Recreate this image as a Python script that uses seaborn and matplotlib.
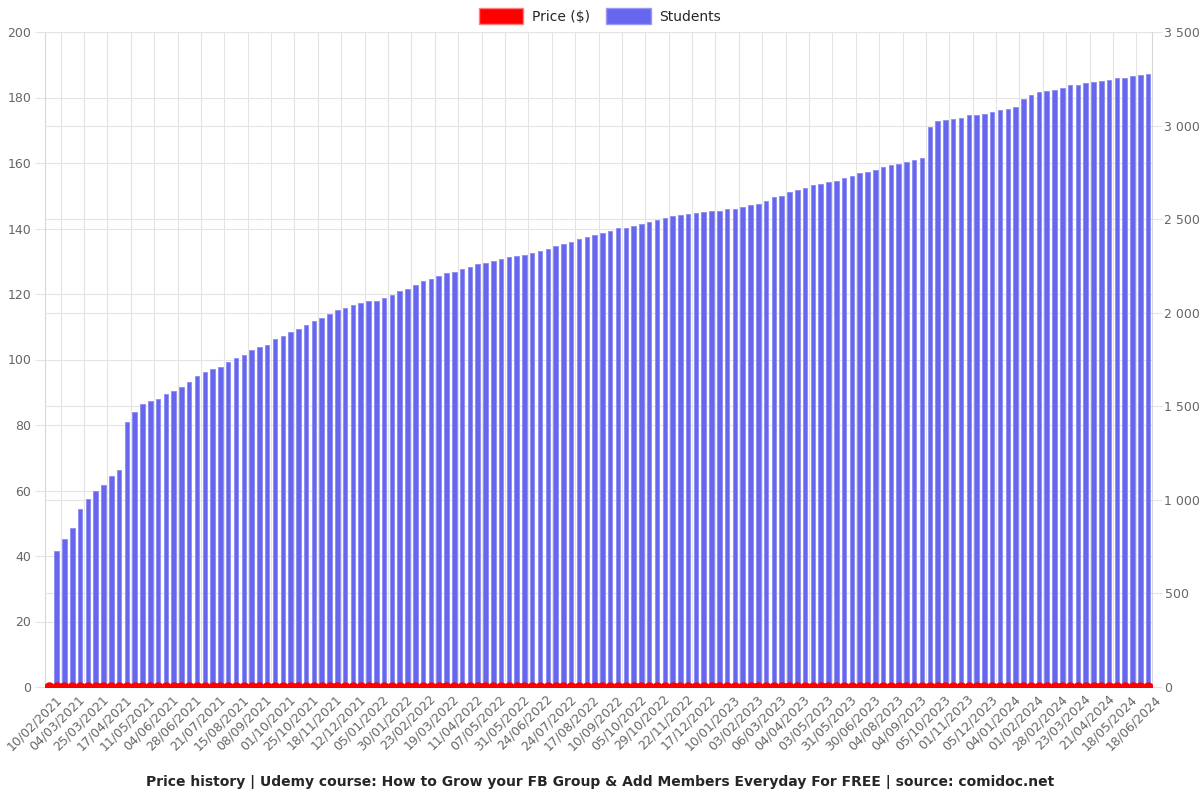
import numpy as np
import pandas as pd
import matplotlib
matplotlib.use("Agg")
import matplotlib.pyplot as plt
import matplotlib.transforms as mtransforms
from matplotlib.patches import Patch
from matplotlib.ticker import FuncFormatter, MultipleLocator
import seaborn as sns

# tick labels (every third snapshot is labelled)
tick_labels = [
    "10/02/2021", "04/03/2021", "25/03/2021", "17/04/2021", "11/05/2021", "04/06/2021",
    "28/06/2021", "21/07/2021", "15/08/2021", "08/09/2021", "01/10/2021", "25/10/2021",
    "18/11/2021", "12/12/2021", "05/01/2022", "30/01/2022", "23/02/2022", "19/03/2022",
    "11/04/2022", "07/05/2022", "31/05/2022", "24/06/2022", "24/07/2022", "17/08/2022",
    "10/09/2022", "05/10/2022", "29/10/2022", "22/11/2022", "17/12/2022", "10/01/2023",
    "03/02/2023", "06/03/2023", "04/04/2023", "03/05/2023", "31/05/2023", "30/06/2023",
    "04/08/2023", "04/09/2023", "05/10/2023", "01/11/2023", "05/12/2023", "04/01/2024",
    "01/02/2024", "28/02/2024", "23/03/2024", "21/04/2024", "18/05/2024", "18/06/2024",
]

# students per snapshot
students = [
    0, 725, 793, 849, 950, 1003, 1047, 1078, 1127, 1159,
    1418, 1467, 1510, 1526, 1538, 1565, 1584, 1603, 1629, 1663,
    1685, 1701, 1712, 1738, 1759, 1773, 1799, 1817, 1829, 1860,
    1878, 1895, 1913, 1934, 1957, 1974, 1995, 2013, 2027, 2039,
    2053, 2062, 2065, 2079, 2097, 2118, 2126, 2149, 2170, 2179,
    2196, 2210, 2219, 2231, 2245, 2258, 2266, 2279, 2289, 2298,
    2301, 2310, 2319, 2328, 2342, 2359, 2368, 2380, 2394, 2403,
    2415, 2424, 2438, 2450, 2455, 2464, 2473, 2485, 2494, 2508,
    2517, 2524, 2529, 2534, 2538, 2543, 2546, 2552, 2555, 2564,
    2573, 2581, 2599, 2616, 2625, 2643, 2657, 2669, 2681, 2686,
    2699, 2704, 2721, 2730, 2744, 2753, 2762, 2779, 2790, 2795,
    2805, 2816, 2826, 2991, 3024, 3028, 3035, 3042, 3054, 3057,
    3063, 3073, 3082, 3091, 3098, 3143, 3166, 3178, 3183, 3192,
    3201, 3215, 3218, 3225, 3232, 3236, 3245, 3252, 3255, 3267,
    3271, 3274,
]

# the course stayed free the whole time
price = [0.0] * len(students)

BLUE = "#6666ee"
RED = "#ff0000"
GRID = "#e4e4e4"
TXT = "#666666"

df = pd.DataFrame({"snapshot": np.arange(len(students)), "students": students, "price": price})

sns.set_style("white")
plt.rcParams["font.family"] = ["DejaVu Sans"]

fig, ax = plt.subplots(figsize=(12, 8), dpi=100)
fig.subplots_adjust(left=0.0375, right=0.96, top=0.96, bottom=0.14125)
ax2 = ax.twinx()
ax3 = ax.twinx()

# 1. Students bars (right axis)
sns.barplot(data=df, x="snapshot", y="students", ax=ax2, color=BLUE, saturation=1,
            width=0.58, edgecolor="#8c8cf3", linewidth=0.6)

# 2. Price line (left scale, drawn on top, clipped at the floor like the original)
sns.lineplot(data=df, x="snapshot", y="price", ax=ax3, color=RED, linewidth=3,
             marker="o", markersize=7.5, markeredgewidth=0)

n = len(students)
for a in (ax, ax2, ax3):
    a.set_xlim(-0.5, n - 0.5)
    a.set_xlabel("")
    a.set_ylabel("")

ax.set_ylim(0, 200)
ax.yaxis.set_major_locator(MultipleLocator(20))
ax2.set_ylim(0, 3500)
ax2.yaxis.set_major_locator(MultipleLocator(500))
ax2.yaxis.set_major_formatter(FuncFormatter(lambda v, p: f"{int(v):,}".replace(",", " ")))
ax3.set_ylim(0, 200)
ax3.set_yticks([])

# x ticks: labels at every third snapshot, grid lines halfway between them
ax.set_xticks(np.arange(0, n, 3))
ax.set_xticklabels(tick_labels)
ax.set_xticks(np.arange(1.5, n - 1, 3), minor=True)
ax.tick_params(axis="x", which="major", length=0, labelsize=9, labelcolor=TXT, pad=4)
ax.tick_params(axis="x", which="minor", length=7, color=GRID, width=0.8)
offset = mtransforms.ScaledTranslation(6 / 100, 0, fig.dpi_scale_trans)
for lbl in ax.get_xticklabels():
    lbl.set_rotation(45)
    lbl.set_ha("right")
    lbl.set_va("top")
    lbl.set_rotation_mode("anchor")
    lbl.set_transform(lbl.get_transform() + offset)

ax.tick_params(axis="y", length=7, color=GRID, labelsize=9, labelcolor=TXT, pad=3)
ax2.tick_params(axis="y", length=7, color=GRID, labelsize=9, labelcolor=TXT, pad=2)

ax.grid(True, axis="y", which="major", color=GRID, linewidth=0.8)
ax.grid(True, axis="x", which="minor", color=GRID, linewidth=0.8)
ax.grid(False, axis="x", which="major")
ax2.set_axisbelow(True)
ax2.grid(True, axis="y", color=GRID, linewidth=0.8)
ax2.grid(False, axis="x")
ax3.grid(False)

for a in (ax, ax2, ax3):
    for s in a.spines.values():
        s.set_visible(False)
ax.spines["left"].set_visible(True)
ax.spines["left"].set_color("#d8d8d8")
ax.spines["bottom"].set_visible(True)
ax.spines["bottom"].set_color("#d8d8d8")
ax2.spines["right"].set_visible(True)
ax2.spines["right"].set_color("#d8d8d8")

handles = [
    Patch(facecolor=RED, edgecolor="#ff8080", label="Price ($)"),
    Patch(facecolor=BLUE, edgecolor="#9a9af5", label="Students"),
]
fig.legend(handles=handles, loc="center", bbox_to_anchor=(0.5, 0.98), ncol=2, frameon=False,
           handlelength=3.2, handleheight=1.3, fontsize=10, columnspacing=1.2, handletextpad=0.6)

fig.text(0.5, 0.022,
         "Price history | Udemy course: How to Grow your FB Group & Add Members Everyday For FREE | source: comidoc.net",
         ha="center", va="center", fontsize=10, fontweight="bold")

fig.savefig("out.png", dpi=100)
